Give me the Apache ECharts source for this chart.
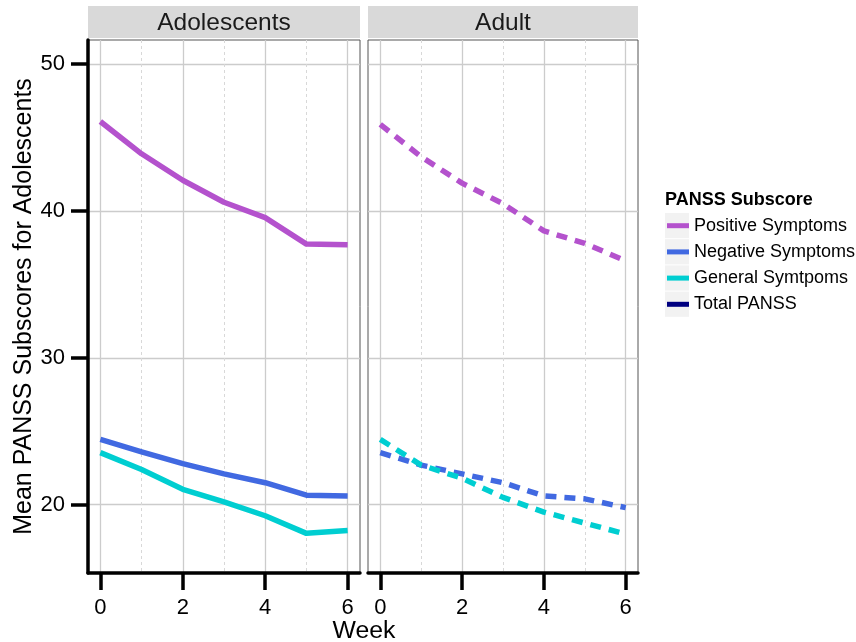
<!DOCTYPE html>
<html>
<head>
<meta charset="utf-8">
<script src="https://cdn.jsdelivr.net/npm/echarts@6/dist/echarts.min.js"></script>
<style>html,body{margin:0;padding:0;background:#fff}#c{width:856px;height:642px}</style>
</head>
<body>
<div id="c"></div>
<script>
const weeks = [0, 1, 2, 3, 4, 5, 6];
const majorWeekTicks = [0, 2, 4, 6];
const minorWeekTicks = [1, 3, 5];
const scoreTicks = [20, 30, 40, 50];
const panels = ['Adolescents', 'Adult'];
const subscores = ['Positive Symptoms', 'Negative Symptoms', 'General Symtpoms', 'Total PANSS'];

const adolPositive = [46.1, 43.9, 42.1, 40.6, 39.55, 37.75, 37.7];
const adolNegative = [24.45, 23.6, 22.8, 22.1, 21.5, 20.65, 20.6];
const adolGeneral  = [23.55, 22.4, 21.05, 20.2, 19.25, 18.05, 18.25];
const adultPositive = [45.9, 43.7, 41.9, 40.5, 38.65, 37.8, 36.6];
const adultNegative = [23.55, 22.7, 22.1, 21.5, 20.6, 20.4, 19.8];
const adultGeneral  = [24.45, 22.7, 21.8, 20.5, 19.5, 18.75, 18.0];

const colors = ['#b452cd', '#4169e1', '#00ced1', '#000080'];
const FONT = "'Liberation Sans', Arial, sans-serif";

const pair = arr => weeks.map((w, i) => [w, arr[i]]);

const chart = echarts.init(document.getElementById('c'), null, {renderer: 'canvas'});

const grids = [
  {left: 88, top: 40, width: 272, height: 533},
  {left: 368, top: 40, width: 270, height: 533}
].map(g => Object.assign(g, {show: true, borderColor: '#555', borderWidth: 1, backgroundColor: '#fff', containLabel: false}));

const XMIN = -0.3, XMAX = 6.3, YMIN = 15.35, YMAX = 51.65;

function majorX(gi) {
  return {
    type: 'value', gridIndex: gi, min: XMIN, max: XMAX, position: 'bottom',
    axisLine: {show: true, onZero: false, lineStyle: {color: '#000', width: 3.5}},
    axisTick: {show: true, customValues: majorWeekTicks, length: 17, lineStyle: {color: '#000', width: 3.5}},
    axisLabel: {show: true, customValues: majorWeekTicks, fontSize: 22, color: '#000', margin: 24, fontFamily: FONT},
    splitLine: {show: true, lineStyle: {color: '#cccccc', width: 1.3}}
  };
}
function minorX(gi) {
  return {
    type: 'value', gridIndex: gi, min: XMIN, max: XMAX, position: 'bottom',
    axisLine: {show: false}, axisTick: {show: false, customValues: minorWeekTicks},
    axisLabel: {show: false, customValues: minorWeekTicks},
    splitLine: {show: true, lineStyle: {color: '#d8d8d8', width: 1, type: [3, 3]}}
  };
}

const option = {
  animation: false,
  textStyle: {fontFamily: FONT},
  grid: grids,
  xAxis: [majorX(0), minorX(0), majorX(1), minorX(1)],
  yAxis: [
    {
      type: 'value', gridIndex: 0, min: YMIN, max: YMAX,
      name: 'Mean PANSS Subscores for Adolescents', nameLocation: 'middle', nameGap: 51,
      nameTextStyle: {fontSize: 25, color: '#000', fontFamily: FONT},
      axisLine: {show: true, onZero: false, lineStyle: {color: '#000', width: 3.5}},
      axisTick: {show: true, customValues: scoreTicks, length: 17, lineStyle: {color: '#000', width: 3.5}},
      axisLabel: {show: true, customValues: scoreTicks, fontSize: 22, color: '#000', margin: 23, fontFamily: FONT},
      splitLine: {show: true, lineStyle: {color: '#cccccc', width: 1.3}}
    },
    {
      type: 'value', gridIndex: 1, min: YMIN, max: YMAX,
      axisLine: {show: false}, axisTick: {show: false, customValues: scoreTicks},
      axisLabel: {show: false, customValues: scoreTicks},
      splitLine: {show: true, lineStyle: {color: '#cccccc', width: 1.3}}
    }
  ],
  legend: {
    orient: 'vertical', left: 667, top: 212.6, padding: 0, itemGap: 0,
    itemWidth: 22, itemHeight: 5, icon: 'rect',
    data: subscores,
    textStyle: {fontSize: 18, color: '#000', lineHeight: 26.2, fontFamily: FONT},
    itemStyle: {borderWidth: 0}
  },
  title: {
    text: 'PANSS Subscore', left: 665, top: 191, padding: 0,
    textStyle: {fontSize: 18, fontWeight: 'bold', color: '#000', fontFamily: FONT}
  },
  graphic: [
    {type: 'rect', shape: {x: 88, y: 6, width: 272, height: 32}, style: {fill: '#d9d9d9'}, silent: true},
    {type: 'rect', shape: {x: 368, y: 6, width: 270, height: 32}, style: {fill: '#d9d9d9'}, silent: true},
    {type: 'text', x: 224, y: 23, style: {text: panels[0], fontSize: 24.5, fill: '#1a1a1a', align: 'center', verticalAlign: 'middle', fontFamily: FONT}, silent: true},
    {type: 'text', x: 503, y: 23, style: {text: panels[1], fontSize: 24.5, fill: '#1a1a1a', align: 'center', verticalAlign: 'middle', fontFamily: FONT}, silent: true},
    {type: 'text', x: 364, y: 631, style: {text: 'Week', fontSize: 24.8, fill: '#000', align: 'center', verticalAlign: 'middle', fontFamily: FONT}, silent: true},
    {type: 'rect', shape: {x: 665, y: 213, width: 24, height: 25.2}, style: {fill: '#f2f2f2'}, silent: true, z: -1},
    {type: 'rect', shape: {x: 665, y: 239.2, width: 24, height: 25.2}, style: {fill: '#f2f2f2'}, silent: true, z: -1},
    {type: 'rect', shape: {x: 665, y: 265.4, width: 24, height: 25.2}, style: {fill: '#f2f2f2'}, silent: true, z: -1},
    {type: 'rect', shape: {x: 665, y: 291.6, width: 24, height: 25.2}, style: {fill: '#f2f2f2'}, silent: true, z: -1}
  ],
  series: [
    ...[adolPositive, adolNegative, adolGeneral].map((d, i) => ({
      type: 'line', name: subscores[i], xAxisIndex: 0, yAxisIndex: 0, data: pair(d),
      showSymbol: false, symbol: 'none', color: colors[i],
      itemStyle: {color: colors[i]},
      lineStyle: {color: colors[i], width: 5.5, cap: 'butt', join: 'round'}
    })),
    ...[adultPositive, adultNegative, adultGeneral].map((d, i) => ({
      type: 'line', name: subscores[i], xAxisIndex: 2, yAxisIndex: 1, data: pair(d),
      showSymbol: false, symbol: 'none', color: colors[i],
      itemStyle: {color: colors[i]},
      lineStyle: {color: colors[i], width: 5.5, type: [11, 8], cap: 'butt'}
    })),
    {type: 'line', name: subscores[3], xAxisIndex: 0, yAxisIndex: 0, data: [], color: colors[3],
     itemStyle: {color: colors[3]}, lineStyle: {color: colors[3], width: 5.5}}
  ]
};
chart.setOption(option);
</script>
</body>
</html>
